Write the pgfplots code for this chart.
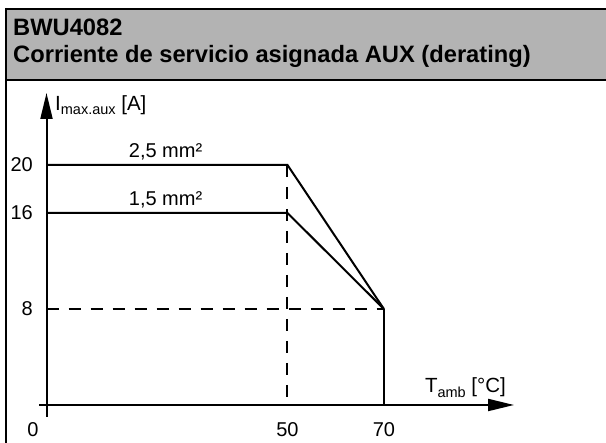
\documentclass[border=0pt]{standalone}
\usepackage{fontspec}
\setmainfont{Liberation Sans}
\usepackage{pgfplots}
\pgfplotsset{compat=1.18}
\usetikzlibrary{arrows.meta}
\definecolor{hdr}{RGB}{179,179,179}
\begin{document}
\begin{tikzpicture}[x=1pt,y=1pt]
\fill[hdr] (6,434) rectangle (608,363);
\draw[line width=2.4pt] (6,434) -- (610,434);
\draw[line width=2.4pt] (6,363) -- (610,363);
\draw[line width=2.4pt] (6,435.2) -- (6,-5);
\node[anchor=base west, inner sep=0pt, font=\bfseries\fontsize{23.7}{28}\selectfont] at (13,407) {BWU4082};
\node[anchor=base west, inner sep=0pt, font=\bfseries\fontsize{23.7}{28}\selectfont] at (13,380) {Corriente de servicio asignada AUX (derating)};
\begin{axis}[
  at={(39.27pt,26pt)}, anchor=south west,
  scale only axis, width=474.77pt, height=324pt,
  xmin=-1.5, xmax=97, ymin=-1, ymax=26,
  axis lines=middle, clip=false,
  axis line style={line width=2pt},
  x axis line style={-{Triangle[length=26pt,width=12pt]}},
  y axis line style={-{Triangle[length=26pt,width=12pt]}},
  major tick length=0pt,
  hide obscured x ticks=false, hide obscured y ticks=false,
  xtick={50,70}, ytick={8,16,20},
  extra x ticks={0},
  extra x tick style={xticklabel style={xshift=-13.5pt}},
  /pgf/number format/assume math mode=true,
  ticklabel style={font=\fontsize{20}{24}\selectfont},
  yticklabel style={anchor=east, inner sep=0pt, xshift=-13.5pt},
  xticklabel style={anchor=north, inner sep=0pt, yshift=-17pt},
]
\addplot[black, line width=2pt, dash pattern=on 12pt off 10pt] coordinates {(0,8) (70,8)};
\addplot[black, line width=2pt, dash pattern=on 12pt off 10pt] coordinates {(50,20) (50,0)};
\addplot[black, line width=2pt] coordinates {(0,20) (50,20) (70,8)};
\addplot[black, line width=2pt] coordinates {(0,16) (50,16) (70,8)};
\addplot[black, line width=2pt] coordinates {(70,8) (70,0)};
\node[anchor=base, inner sep=0pt, font=\fontsize{20}{24}\selectfont] at (axis cs:24.7,20.62) {2,5 mm²};
\node[anchor=base, inner sep=0pt, font=\fontsize{20}{24}\selectfont] at (axis cs:24.7,16.62) {1,5 mm²};
\node[anchor=base west, inner sep=0pt, font=\fontsize{20.5}{24}\selectfont] at (axis cs:1.76,24.58) {I\raisebox{-4.5pt}{\fontsize{14.5}{16}\selectfont max.aux} [A]};
\node[anchor=base west, inner sep=0pt, font=\fontsize{20.5}{24}\selectfont] at (axis cs:78.5,1.0) {T\raisebox{-4.5pt}{\fontsize{14.5}{16}\selectfont amb} [°C]};
\end{axis}
\pgfresetboundingbox
\path (0,0) rectangle (606,443);
\end{tikzpicture}
\end{document}
